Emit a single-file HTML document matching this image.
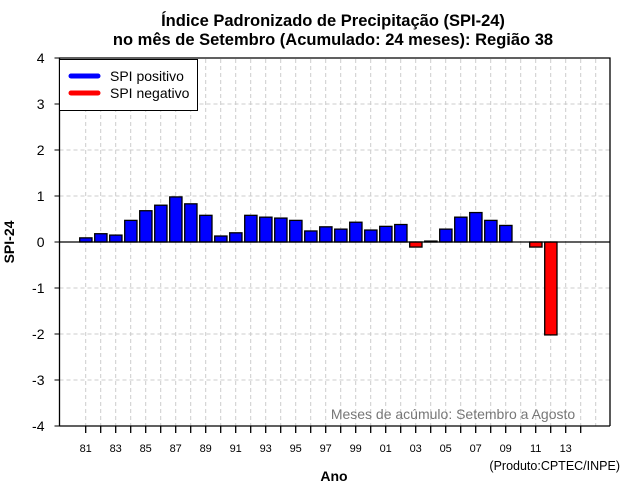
<!DOCTYPE html>
<html><head><meta charset="utf-8"><style>
body{margin:0;background:#fff;}
svg{display:block;font-family:"Liberation Sans",sans-serif;}
</style></head><body>
<svg id="chart" width="640" height="500" viewBox="0 0 640 500">
<text x="333" y="26" text-anchor="middle" font-size="16.5" font-weight="bold">Índice Padronizado de Precipitação (SPI-24)</text>
<text x="333" y="45" text-anchor="middle" font-size="16.5" font-weight="bold">no mês de Setembro (Acumulado: 24 meses): Região 38</text>
<g id="grid"></g>
<g id="bars"></g>
<g id="axes"></g>
<g>
<rect x="59.5" y="59.5" width="138" height="51" fill="#fff" stroke="#000"/>
<line x1="71" y1="76" x2="98" y2="76" stroke="#00f" stroke-width="5" stroke-linecap="round"/>
<text x="110" y="81" font-size="14">SPI positivo</text>
<line x1="71" y1="93" x2="98" y2="93" stroke="#f00" stroke-width="5" stroke-linecap="round"/>
<text x="110" y="98" font-size="14">SPI negativo</text>
</g>
<text x="453" y="419" text-anchor="middle" font-size="14" fill="#777">Meses de acúmulo: Setembro a Agosto</text>
<text x="334" y="481" text-anchor="middle" font-size="14" font-weight="bold">Ano</text>
<text x="14" y="242" text-anchor="middle" font-size="14" font-weight="bold" transform="rotate(-90 14 242)">SPI-24</text>
<text x="620" y="470" text-anchor="end" font-size="12.5">(Produto:CPTEC/INPE)</text>
</svg>
<script>
const years=[1981,1982,1983,1984,1985,1986,1987,1988,1989,1990,1991,1992,1993,1994,1995,1996,1997,1998,1999,2000,2001,2002,2003,2004,2005,2006,2007,2008,2009,2010,2011,2012];
const spiValues=[0.09,0.18,0.15,0.47,0.68,0.8,0.98,0.83,0.58,0.13,0.2,0.58,0.54,0.52,0.47,0.24,0.33,0.28,0.43,0.26,0.34,0.38,-0.11,0.02,0.28,0.54,0.64,0.47,0.36,null,-0.11,-2.02];
const yTicks=[-4,-3,-2,-1,0,1,2,3,4];
const xTickLabels=["81","83","85","87","89","91","93","95","97","99","01","03","05","07","09","11","13"];
const L=59.5,R=610,T=58,B=426;
const x=yr=>85.7+15*(yr-1981);
const y=v=>242-46*v;
const NS="http://www.w3.org/2000/svg";
function mk(tag,attrs,parent){const e=document.createElementNS(NS,tag);for(const k in attrs)e.setAttribute(k,attrs[k]);parent.appendChild(e);return e;}
const grid=document.getElementById('grid'),bars=document.getElementById('bars'),axes=document.getElementById('axes');
for(let yr=1981;yr<=2015;yr++){
 const g=mk('line',{x1:x(yr),x2:x(yr),y1:T+1,y2:B,stroke:'#ccc','stroke-dasharray':'4,3'},grid);
 
 
}
yTicks.forEach(t=>{
 if(t!==0&&t!==4&&t!==-4){const g=mk('line',{x1:L,x2:R,y1:y(t),y2:y(t),stroke:'#ccc','stroke-dasharray':'4,3'},grid);
 
 }
 const tk=mk('line',{x1:L-5,x2:L,y1:y(t),y2:y(t),stroke:'#000'},axes);
 
 
 const lb=mk('text',{x:L-15,y:y(t)+5,'text-anchor':'end','font-size':14},axes);
 lb.textContent=t;
 
 
});
years.forEach((yr,i)=>{
 const v=spiValues[i]; if(v===null)return;
 const y0=Math.min(y(0),y(v)),h=Math.abs(y(v)-y(0));
 const r=mk('rect',{x:x(yr)-6,y:y0,width:12.3,height:Math.max(h,0.5),fill:v>=0?'#00f':'#f00',stroke:'#000','stroke-width':1.3},bars);
 
 
});
const z=mk('line',{x1:L,x2:R,y1:y(0),y2:y(0),stroke:'#000','stroke-width':1.3},axes);


const fr=mk('path',{d:`M${L},${B}V${T}H${R}V${B}`,fill:'none',stroke:'#000','stroke-width':1.3},axes);


const bl=mk('line',{x1:L,x2:R,y1:B,y2:B,stroke:'#000','stroke-width':1.3},axes);


for(let yr=1981;yr<=2014;yr++){
 const tk=mk('line',{x1:x(yr),x2:x(yr),y1:B,y2:B+7,stroke:'#000','stroke-width':1.3},axes);
 
 
}
xTickLabels.forEach((s,i)=>{
 const lb=mk('text',{x:x(1981+2*i),y:452,'text-anchor':'middle','font-size':11},axes);
 lb.textContent=s;
 
 
});
</script>
</body></html>
